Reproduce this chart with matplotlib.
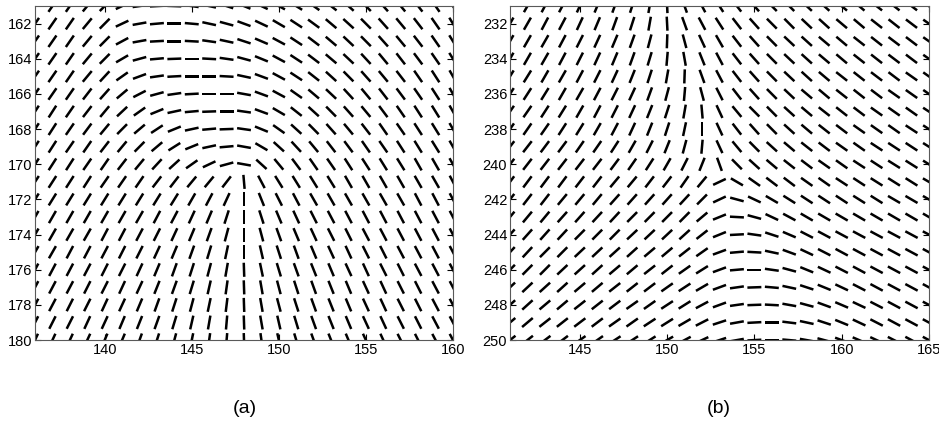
import numpy as np
import matplotlib
matplotlib.use("Agg")
from matplotlib import pyplot as plt

plt.rcParams['font.family'] = ['Liberation Sans', 'DejaVu Sans']

# orientation angles in degrees, as seen on screen (ccw from horizontal)
# panel (a): columns x = 136..160, rows y = 161..180
xa = list(range(136, 161))
ya = list(range(161, 181))
ang_a = [
    [55, 55, 55, 50, 45, 25, 8, 3, -2, -8, -12, -18, -22, -25, -28, -32, -35, -38, -42, -45, -48, -50, -52, -55, -58],
    [55, 55, 55, 50, 45, 25, 10, 5, 0, -5, -12, -15, -20, -25, -30, -33, -36, -40, -42, -45, -48, -50, -52, -55, -58],
    [55, 55, 55, 50, 45, 28, 10, 3, 0, -3, -8, -12, -18, -23, -28, -33, -37, -40, -43, -45, -48, -50, -52, -55, -58],
    [55, 55, 55, 50, 45, 30, 15, 5, 2, 0, -3, -8, -15, -22, -28, -33, -37, -40, -43, -47, -50, -52, -53, -55, -58],
    [55, 55, 55, 50, 47, 35, 20, 8, 3, 0, 0, -3, -12, -20, -28, -33, -38, -42, -45, -48, -50, -52, -55, -57, -60],
    [55, 55, 55, 52, 48, 40, 27, 15, 8, 3, 0, 0, -10, -20, -28, -35, -40, -43, -47, -50, -52, -53, -55, -57, -60],
    [57, 57, 55, 52, 50, 43, 35, 22, 12, 5, 2, 0, -8, -20, -30, -38, -42, -45, -48, -50, -53, -55, -57, -58, -60],
    [57, 57, 55, 53, 50, 45, 40, 33, 22, 12, 5, 2, -8, -22, -35, -42, -45, -48, -50, -52, -55, -55, -57, -58, -60],
    [57, 57, 55, 55, 52, 50, 45, 40, 32, 22, 12, 5, -10, -30, -42, -47, -50, -52, -53, -55, -55, -57, -58, -58, -60],
    [57, 57, 57, 55, 55, 52, 50, 47, 42, 35, 25, 15, -10, -42, -50, -53, -55, -55, -57, -57, -58, -58, -60, -60, -60],
    [57, 57, 57, 57, 55, 55, 55, 52, 52, 50, 50, 52, -85, -62, -58, -58, -58, -58, -60, -60, -60, -60, -60, -60, -62],
    [58, 58, 58, 58, 58, 58, 58, 58, 58, 60, 62, 65, 90, -68, -63, -62, -60, -60, -60, -60, -60, -60, -62, -62, -62],
    [60, 60, 60, 60, 60, 60, 60, 62, 62, 65, 67, 72, 90, -72, -67, -65, -63, -62, -62, -62, -62, -62, -62, -62, -62],
    [60, 60, 60, 60, 62, 62, 62, 63, 65, 67, 70, 75, 90, -75, -70, -67, -65, -63, -63, -62, -62, -62, -62, -62, -62],
    [60, 60, 62, 62, 62, 63, 63, 65, 67, 70, 73, 78, 90, -77, -72, -70, -67, -65, -65, -63, -63, -62, -62, -62, -62],
    [62, 62, 62, 62, 63, 63, 65, 67, 70, 72, 75, 80, -88, -78, -73, -70, -68, -67, -65, -65, -63, -63, -62, -62, -62],
    [62, 62, 62, 63, 63, 65, 65, 68, 70, 73, 77, 82, -88, -80, -75, -72, -70, -68, -67, -65, -65, -63, -63, -62, -62],
    [62, 62, 63, 63, 65, 65, 67, 70, 72, 75, 78, 83, -88, -80, -75, -72, -70, -68, -67, -65, -65, -63, -63, -62, -62],
    [63, 63, 63, 65, 65, 67, 68, 70, 73, 77, 80, 85, -88, -80, -77, -73, -70, -68, -67, -65, -65, -63, -63, -62, -62],
    [65, 65, 65, 65, 67, 67, 70, 72, 75, 78, 82, 85, -88, -82, -77, -73, -70, -68, -67, -65, -65, -63, -63, -62, -62],
]

# panel (b): columns x = 141..165, rows y = 231..250
xb = list(range(141, 166))
yb = list(range(231, 251))
ang_b = [
    [60, 60, 62, 62, 65, 67, 70, 72, 80, -87, -70, -62, -57, -52, -48, -45, -45, -43, -42, -40, -40, -38, -38, -37, -35],
    [60, 60, 62, 62, 65, 67, 70, 72, 80, -87, -70, -62, -57, -52, -48, -45, -45, -43, -42, -40, -40, -38, -38, -37, -35],
    [60, 60, 60, 62, 63, 65, 67, 70, 75, 88, -75, -65, -60, -52, -48, -45, -43, -42, -40, -40, -38, -38, -37, -37, -35],
    [60, 60, 60, 62, 63, 65, 67, 70, 73, 85, -80, -68, -62, -52, -48, -45, -43, -42, -40, -40, -38, -38, -37, -37, -35],
    [58, 58, 60, 60, 62, 63, 65, 68, 72, 80, 88, -70, -62, -52, -48, -45, -43, -42, -40, -38, -38, -37, -37, -35, -35],
    [57, 57, 58, 60, 60, 62, 63, 65, 70, 75, 85, -75, -63, -52, -48, -45, -43, -40, -40, -38, -38, -37, -35, -35, -35],
    [55, 55, 57, 58, 60, 62, 63, 65, 68, 72, 80, -85, -65, -50, -45, -45, -42, -40, -38, -38, -37, -35, -35, -35, -33],
    [55, 55, 55, 57, 58, 60, 62, 65, 68, 72, 78, 90, -65, -52, -48, -45, -42, -40, -38, -37, -35, -35, -35, -33, -33],
    [52, 52, 53, 53, 55, 55, 57, 60, 63, 68, 75, 85, -65, -50, -45, -42, -40, -38, -37, -35, -35, -33, -33, -33, -32],
    [52, 52, 52, 52, 52, 52, 53, 55, 57, 60, 63, 68, -70, -45, -42, -40, -38, -37, -35, -35, -33, -33, -32, -32, -32],
    [53, 53, 53, 53, 52, 52, 50, 50, 52, 52, 55, 50, 25, -30, -35, -37, -37, -35, -35, -33, -33, -32, -32, -32, -30],
    [52, 52, 52, 50, 50, 50, 48, 48, 48, 48, 47, 45, 25, -15, -25, -30, -32, -33, -33, -33, -32, -32, -30, -30, -30],
    [50, 50, 50, 48, 48, 47, 47, 45, 45, 45, 45, 40, 22, -3, -15, -25, -28, -30, -30, -30, -30, -30, -30, -30, -30],
    [48, 48, 48, 47, 45, 45, 45, 43, 43, 43, 42, 38, 22, 3, -8, -18, -23, -27, -28, -28, -28, -28, -28, -28, -28],
    [47, 47, 45, 45, 43, 43, 42, 42, 40, 40, 38, 35, 20, 5, -3, -12, -20, -25, -27, -28, -28, -28, -28, -28, -28],
    [45, 45, 45, 43, 42, 42, 40, 40, 38, 38, 35, 32, 20, 5, 0, -8, -15, -22, -25, -27, -28, -28, -28, -28, -28],
    [43, 43, 42, 42, 40, 40, 38, 38, 37, 35, 33, 30, 20, 8, 2, -5, -12, -18, -22, -25, -27, -28, -28, -28, -28],
    [42, 42, 40, 40, 38, 38, 37, 35, 35, 33, 32, 28, 20, 8, 2, -3, -10, -15, -20, -23, -25, -27, -28, -28, -28],
    [40, 40, 38, 38, 37, 37, 35, 35, 33, 32, 30, 27, 18, 10, 3, 0, -7, -12, -18, -22, -25, -27, -28, -28, -28],
    [38, 38, 37, 37, 35, 35, 33, 33, 32, 30, 28, 25, 18, 10, 3, 0, -5, -10, -15, -20, -23, -25, -27, -28, -28],
]

seg_len = 0.8


def draw_field(ax, xs, ys, ang, xticks, yticks):
    X, Y = np.meshgrid(xs, ys)
    a = np.deg2rad(np.array(ang, dtype=float))
    U = seg_len * np.cos(a)
    V = -seg_len * np.sin(a)  # y axis is flipped
    ax.quiver(X, Y, U, V, angles='xy', scale_units='xy', scale=1, pivot='mid',
              headwidth=0, headlength=0, headaxislength=0, width=0.006, color='k')
    ax.set_xlim(xs[0], xs[-1])
    ax.set_ylim(ys[-1], ys[0])
    ax.set_xticks(xticks)
    ax.set_yticks(yticks)
    ax.tick_params(direction='in', length=4, labelsize=10.5, top=True, right=True, pad=2)
    for s in ax.spines.values():
        s.set_color('0.35')
        s.set_linewidth(0.8)


fig = plt.figure(figsize=(9.39, 4.23), dpi=100)
ax1 = fig.add_axes([0.0373, 0.196, 0.4451, 0.7896])
ax2 = fig.add_axes([0.5431, 0.196, 0.4462, 0.7896])

draw_field(ax1, xa, ya, ang_a, [140, 145, 150, 155, 160], list(range(162, 181, 2)))
draw_field(ax2, xb, yb, ang_b, [145, 150, 155, 160, 165], list(range(232, 251, 2)))

fig.text(0.261, 0.035, '(a)', ha='center', va='center', fontsize=14)
fig.text(0.765, 0.035, '(b)', ha='center', va='center', fontsize=14)

fig.savefig('out.png', dpi=100)
